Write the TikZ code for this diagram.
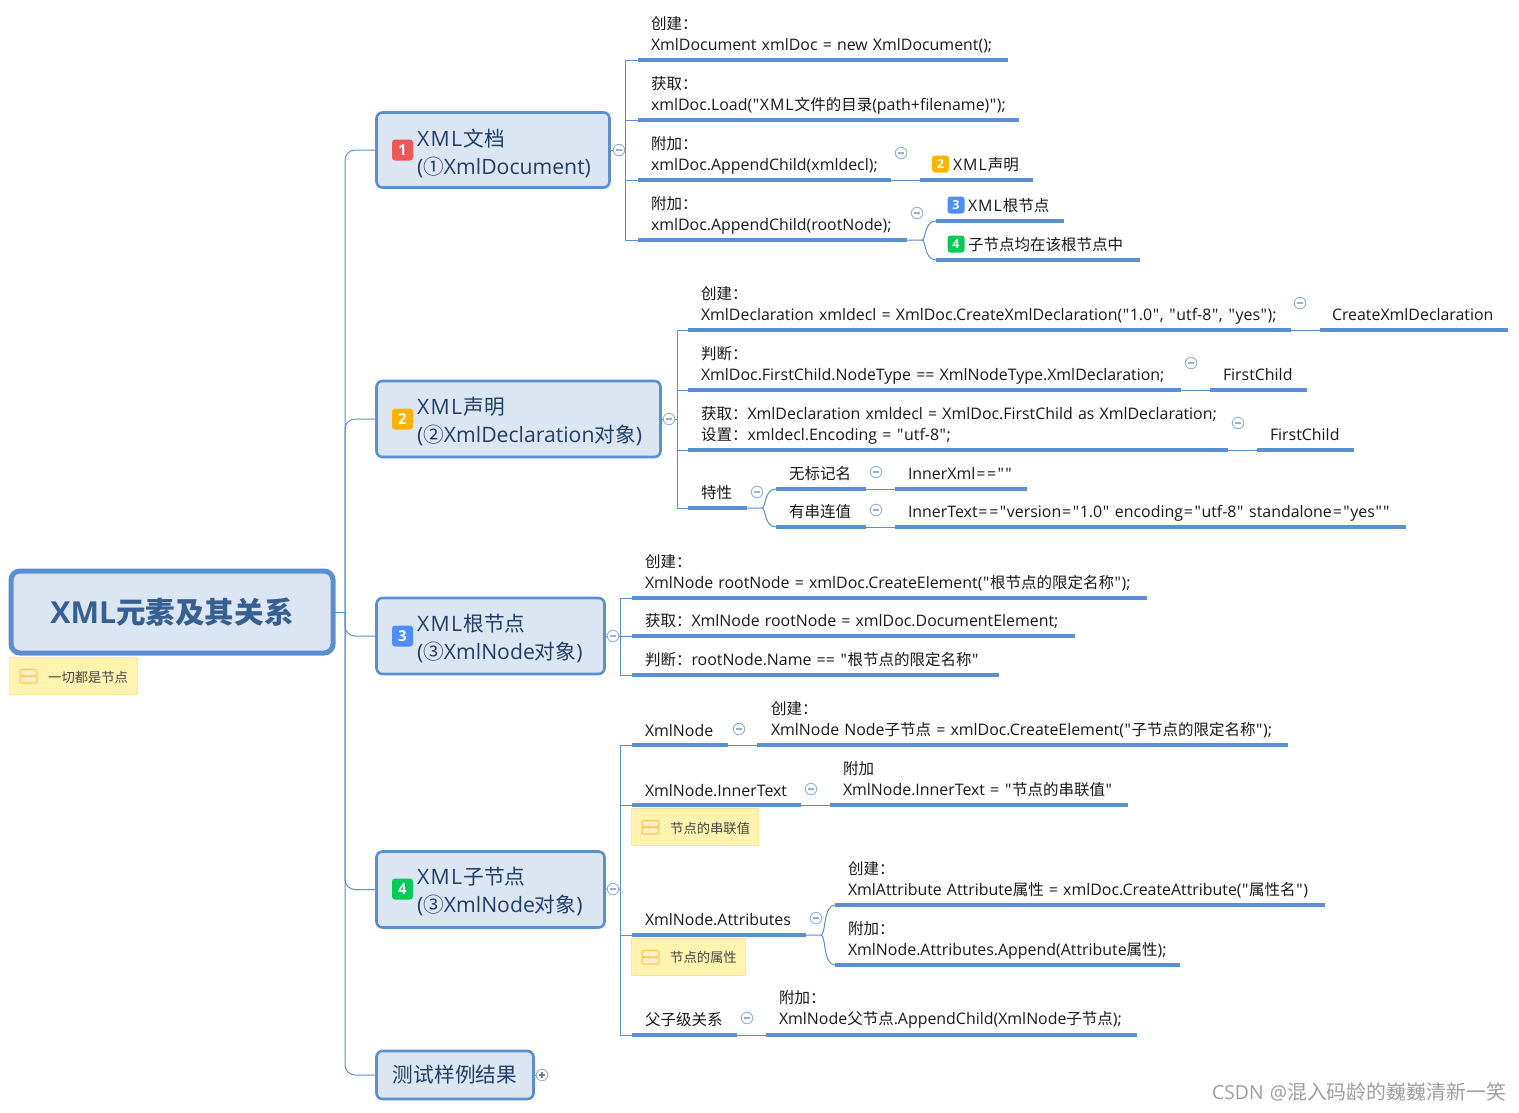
\documentclass[tikz,border=0pt]{standalone}
\usepackage{fontspec}
\setmainfont{Open Sans}[Ligatures=TeXOff,WordSpace=1.25]
\newfontfamily\zhf{Noto Sans CJK SC}[Scale=0.975]
\newcommand\zh[1]{{\zhf #1}}
\newcommand\XML{X\kern.065em M\kern.065em L\kern.065em\relax}
\newcommand\qq{\kern.6pt"\kern.6pt\relax}
\newcommand\eq{\kern.9pt=\kern.9pt\relax}
\definecolor{blu}{HTML}{5B8FD4}
\definecolor{boxf}{HTML}{DCE6F2}
\definecolor{notef}{HTML}{FFF3B0}
\definecolor{noteb}{HTML}{FDE69A}
\definecolor{iconb}{HTML}{FFC85A}
\definecolor{iconf}{HTML}{FFEFC6}
\definecolor{foldb}{HTML}{8FB2E2}
\definecolor{foldm}{HTML}{9DB0CC}
\definecolor{lvl}{HTML}{1F3F66}
\definecolor{rootc}{HTML}{376092}
\definecolor{bred}{HTML}{F25555}
\definecolor{bora}{HTML}{FFB300}
\definecolor{bblu}{HTML}{4C8DFF}
\definecolor{bgre}{HTML}{00CC55}
\tikzset{
  x=1pt,y=-1pt,
  conn/.style={draw=blu,line width=1pt},
  under/.style={draw=blu,line width=3.3pt},
  topictext/.style={anchor=west,inner sep=0pt,outer sep=0pt,align=left,text=black!90,
     font=\fontsize{15.9}{21}\selectfont,execute at begin node=\strut,execute at end node=\strut},
  rootbox/.style={draw=blu,line width=5pt,fill=boxf,rounded corners=9pt,outer sep=0pt,inner sep=0pt,
     text=rootc,font=\bfseries\fontsize{30.3}{36}\selectfont},
  lvlbox/.style={draw=blu,line width=2.6pt,fill=boxf,rounded corners=6pt,outer sep=0pt,inner sep=0pt},
  lvltext/.style={anchor=west,inner sep=0pt,outer sep=0pt,align=left,text=lvl,
     font=\fontsize{21.2}{28}\selectfont,execute at begin node=\strut,execute at end node=\strut},
  badge/.style={fill=#1,rounded corners=3pt,text=white,inner sep=0pt,outer sep=0pt,font=\bfseries\fontsize{15}{17}\selectfont},
  smallbadge/.style={badge=#1,minimum size=17pt,font=\bfseries\fontsize{12.5}{14}\selectfont},
  fold/.style={circle,draw=foldb,fill=white,line width=.9pt,minimum size=11.5pt,inner sep=0pt,outer sep=0pt},
  notebox/.style={fill=notef,draw=noteb,line width=1pt,outer sep=0pt,inner sep=0pt},
  notetext/.style={anchor=west,inner sep=0pt,text=black!72,font=\fontsize{13.65}{16}\selectfont},
  iconbar/.style={fill=iconf,draw=iconb,line width=1.2pt,rounded corners=2pt},
}
\newcommand\tp[7]{%
  \coordinate (#1-a) at (#2,#4);\coordinate (#1-b) at (#3,#4);
  \node[topictext,yshift=-2pt] (#1) at (#5,#6) {#7};
  \draw[under] (#1-a) -- (#1-b);}
\newcommand\foldm[3]{%
  \node[fold] (#1) at (#2,#3) {};
  \draw[draw=foldm,line width=1.2pt] ([xshift=-3pt]#1.center) -- ([xshift=3pt]#1.center);}
\newcommand\notei[5]{% name x0 x1 y0 y1
  \node[notebox,anchor=north west,minimum width={(#3-#2)*1pt},minimum height={(#5-#4)*1pt}] (#1) at (#2,#4) {};
  \draw[iconbar] ({#2+11},{#4+12.5}) rectangle ({#2+28},{#4+19});
  \draw[iconbar] ({#2+11},{#4+19.5}) rectangle ({#2+28},{#4+26});}
\begin{document}
\begin{tikzpicture}
\useasboundingbox[fill=white] (0,0) rectangle (1519,1112);

% root
\node[rootbox,minimum width=322pt,minimum height=82pt] (root) at (172,612) {\raisebox{-1pt}{XML\zh{元素及其关系}}};
\notei{rootnote}{9}{137}{657}{694}
\node[notetext] (rootnotet) at (48,677) {\zh{一切都是节点}};

% level 1
\node[lvlbox,minimum width=233pt,minimum height=75pt] (n1) at (493,150) {};
\node[lvltext] (n1t) at (417,155.5) {\XML\zh{文档}\\(\zh{①}XmlDocument)};
\node[badge=bred,minimum size=21pt] (b1) at (402.5,150) {1};
\node[lvlbox,minimum width=284pt,minimum height=76pt] (n2) at (518.5,419) {};
\node[lvltext] (n2t) at (417,424) {\XML\zh{声明}\\(\zh{②}XmlDeclaration\zh{对象})};
\node[badge=bora,minimum size=21pt] (b2) at (402.5,419) {2};
\node[lvlbox,minimum width=228pt,minimum height=76pt] (n3) at (490.5,636) {};
\node[lvltext] (n3t) at (417,641.5) {\XML\zh{根节点}\\(\zh{③}XmlNode\zh{对象})};
\node[badge=bblu,minimum size=21pt] (b3) at (402.5,636) {3};
\node[lvlbox,minimum width=228pt,minimum height=76pt] (n4) at (490.5,889.5) {};
\node[lvltext] (n4t) at (417,894.5) {\XML\zh{子节点}\\(\zh{③}XmlNode\zh{对象})};
\node[badge=bgre,minimum size=21pt] (b4) at (402.5,889) {4};
\node[lvlbox,minimum width=157pt,minimum height=48pt,text=lvl,font=\fontsize{21.2}{24}\selectfont] (n5) at (455,1075) {\zh{测试样例结果}};

% trunk
\coordinate (trk) at (345,612);
\draw[conn] (root.east) -- (trk);
\begin{scope}[rounded corners=10pt]
\draw[conn] (trk) |- (n1.west);
\draw[conn] (trk) |- (n2.west);
\draw[conn] (trk) |- (n3.west);
\draw[conn] (trk) |- (n4.west);
\draw[conn] (trk) |- (n5.west);
\end{scope}

% XML document
\foldm{f1}{619}{150}
\coordinate (v1) at (625.5,150);
\draw[conn] (n1.east) -- (f1.west);
\draw[conn] (f1.east) -- (v1);
\tp{a1}{638}{1008}{60}{651}{34.5}{\zh{创建：}\\XmlDocument xmlDoc = new XmlDocument();}
\tp{a2}{638}{1019}{120}{651}{94.5}{\zh{获取：}\\xmlDoc.Load(\qq\XML\zh{文件的目录}(path+filename)\qq);}
\tp{a3}{638}{891}{180}{651}{154.5}{\zh{附加：}\\xmlDoc.AppendChild(xmldecl);}
\tp{a4}{638}{907}{240}{651}{214.5}{\zh{附加：}\\xmlDoc.AppendChild(rootNode);}
\draw[conn] (a1-a) -| (v1);
\draw[conn] (a2-a) -| (v1);
\draw[conn] (a3-a) -| (v1);
\draw[conn] (a4-a) -| (v1);
\foldm{fa3}{901}{153}
\tp{a3x}{920}{1033}{180}{953}{164}{\XML\zh{声明}}
\node[smallbadge=bora] (ba3) at (940.5,164) {2};
\draw[conn] (a3-b) -- (a3x-a);
\foldm{fa4}{917}{213}
\tp{a4x}{936}{1064}{221}{968}{205}{\XML\zh{根节点}}
\node[smallbadge=bblu] (ba4x) at (956,205) {3};
\tp{a4y}{936}{1140}{260}{968}{244}{\zh{子节点均在该根节点中}}
\node[smallbadge=bgre] (ba4y) at (956,244) {4};
\coordinate (j4) at (922,240);
\draw[conn] (a4-b) -- (j4) .. controls (926,240) and (924,221) .. (a4x-a);
\draw[conn] (j4) .. controls (926,240) and (924,260) .. (a4y-a);

% XML declaration
\foldm{f2}{669}{419}
\coordinate (v2) at (677,419);
\draw[conn] (n2.east) -- (f2.west);
\draw[conn] (f2.east) -- (v2);
\tp{c1}{688}{1291}{330}{701}{304.5}{\zh{创建：}\\XmlDeclaration xmldecl = XmlDoc.CreateXmlDeclaration(\qq 1.0\qq, \qq utf-8\qq, \qq yes\qq);}
\tp{c2}{688}{1181}{390}{701}{364.5}{\zh{判断：}\\XmlDoc.FirstChild.NodeType == XmlNodeType.XmlDeclaration;}
\tp{c3}{688}{1228}{450}{701}{424.5}{\zh{获取：}XmlDeclaration xmldecl = XmlDoc.FirstChild as XmlDeclaration;\\\zh{设置：}xmldecl.Encoding = \qq utf-8\qq;}
\tp{c4}{688}{747}{508}{701}{492}{\zh{特性}}
\draw[conn] (c1-a) -| (v2);
\draw[conn] (c2-a) -| (v2);
\draw[conn] (c3-a) -| (v2);
\draw[conn] (c4-a) -| (v2);
\foldm{fc1}{1300}{303}
\tp{c1x}{1320}{1508}{330}{1332}{314}{CreateXmlDeclaration}
\draw[conn] (c1-b) -- (c1x-a);
\foldm{fc2}{1191}{363}
\tp{c2x}{1210}{1307}{390}{1223}{374}{FirstChild}
\draw[conn] (c2-b) -- (c2x-a);
\foldm{fc3}{1238}{423}
\tp{c3x}{1257}{1354}{450}{1270}{434}{FirstChild}
\draw[conn] (c3-b) -- (c3x-a);
\foldm{fc4}{757}{492}
\tp{d1}{776}{866}{489}{789}{473}{\zh{无标记名}}
\tp{d2}{776}{866}{527}{789}{511}{\zh{有串连值}}
\coordinate (j5) at (762,508);
\draw[conn] (c4-b) -- (j5) .. controls (766,508) and (764,489) .. (d1-a);
\draw[conn] (j5) .. controls (766,508) and (764,527) .. (d2-a);
\foldm{fd1}{876}{472}
\tp{d1x}{895}{1027}{489}{908}{473}{InnerXml\eq\eq\qq\qq}
\draw[conn] (d1-b) -- (d1x-a);
\foldm{fd2}{876}{510}
\tp{d2x}{895}{1406}{527}{908}{511}{InnerText\eq\eq\qq version\eq\qq 1.0\qq{} encoding\eq\qq utf-8\qq{} standalone\eq\qq yes\qq\qq}
\draw[conn] (d2-b) -- (d2x-a);

% XML root node
\foldm{f3}{613}{636}
\coordinate (v3) at (620,636);
\draw[conn] (n3.east) -- (f3.west);
\draw[conn] (f3.east) -- (v3);
\tp{e1}{632}{1147}{598}{645}{572.5}{\zh{创建：}\\XmlNode rootNode = xmlDoc.CreateElement(\qq\zh{根节点的限定名称}\qq);}
\tp{e2}{632}{1075}{636}{645}{620}{\zh{获取：}XmlNode rootNode = xmlDoc.DocumentElement;}
\tp{e3}{632}{999}{675}{645}{659}{\zh{判断：}rootNode.Name == \qq\zh{根节点的限定名称}\qq}
\draw[conn] (e1-a) -| (v3);
\draw[conn] (e2-a) -| (v3);
\draw[conn] (e3-a) -| (v3);

% XML child node
\foldm{f4}{613}{889}
\coordinate (v4) at (620,889);
\draw[conn] (n4.east) -- (f4.west);
\draw[conn] (f4.east) -- (v4);
\tp{g1}{632}{728}{745}{645}{730}{XmlNode}
\foldm{fg1}{739}{729}
\tp{g1x}{757}{1288}{745}{771}{720}{\zh{创建：}\\XmlNode Node\zh{子节点} = xmlDoc.CreateElement(\qq\zh{子节点的限定名称}\qq);}
\draw[conn] (g1-b) -- (g1x-a);
\tp{g2}{632}{801}{805}{645}{790}{XmlNode.InnerText}
\foldm{fg2}{811}{789}
\tp{g2x}{830}{1128}{805}{843}{780}{\zh{附加}\\XmlNode.InnerText = \qq\zh{节点的串联值}\qq}
\draw[conn] (g2-b) -- (g2x-a);
\notei{gn2}{631}{758}{808}{845}
\node[notetext] (gn2t) at (670,828) {\zh{节点的串联值}};
\tp{g3}{632}{806}{935}{645}{919}{XmlNode.Attributes}
\foldm{fg3}{816}{918}
\tp{g3x}{835}{1325}{905}{848}{879.5}{\zh{创建：}\\XmlAttribute Attribute\zh{属性} = xmlDoc.CreateAttribute(\qq\zh{属性名}\qq)}
\tp{g3y}{835}{1180}{965}{848}{939.5}{\zh{附加：}\\XmlNode.Attributes.Append(Attribute\zh{属性});}
\coordinate (j6) at (821,935);
\draw[conn] (g3-b) -- (j6) .. controls (826,935) and (823,905) .. (g3x-a);
\draw[conn] (j6) .. controls (826,935) and (823,965) .. (g3y-a);
\notei{gn3}{631}{745}{938}{975}
\node[notetext] (gn3t) at (670,957) {\zh{节点的属性}};
\tp{g4}{632}{737}{1035}{645}{1019}{\zh{父子级关系}}
\foldm{fg4}{747}{1018}
\tp{g4x}{766}{1137}{1035}{779}{1009}{\zh{附加：}\\XmlNode\zh{父节点}.AppendChild(XmlNode\zh{子节点});}
\draw[conn] (g4-b) -- (g4x-a);
\draw[conn] (g1-a) -| (v4);
\draw[conn] (g2-a) -| (v4);
\draw[conn] (g3-a) -| (v4);
\draw[conn] (g4-a) -| (v4);

% test node
\node[fold] (f5) at (542,1075) {};
\draw[conn] (n5.east) -- (f5.west);
\draw[draw=foldm!70!black,line width=1.1pt] ([xshift=-3pt]f5.center) -- ([xshift=3pt]f5.center) ([yshift=-3pt]f5.center) -- ([yshift=3pt]f5.center);

% watermark
\node[anchor=west,inner sep=0pt,text=black!38,font=\fontsize{19.3}{22}\selectfont] (wm) at (1212,1092) {CSDN @{\zhf\fontsize{20.4}{22}\selectfont 混入码龄的巍巍清新一笑}};
\end{tikzpicture}
\end{document}
